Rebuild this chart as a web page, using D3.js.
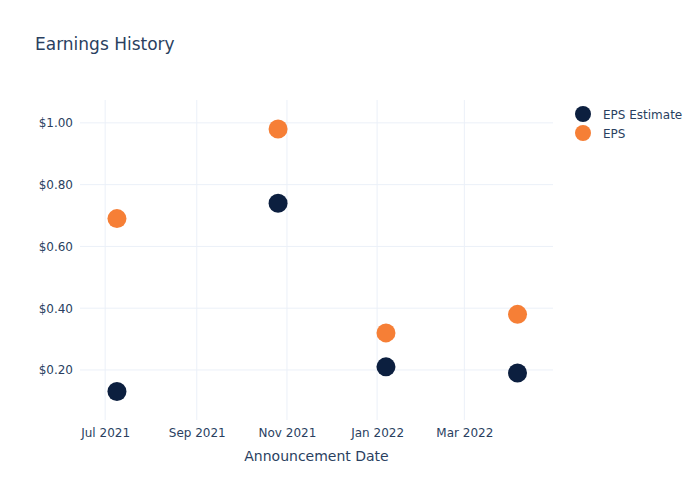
<!DOCTYPE html>
<html><head><meta charset="utf-8">
<script src="https://cdn.jsdelivr.net/npm/d3@7"></script>
<style>body{margin:0;background:#fff}svg{font-family:"DejaVu Sans",sans-serif}</style>
</head><body><svg id="c" width="700" height="500"></svg>
<script>
const dates = ["2021-07-09","2021-10-26","2022-01-07","2022-04-06"];
const epsEstimate = [0.13, 0.74, 0.21, 0.19];
const eps = [0.69, 0.98, 0.32, 0.38];
const yTicks = [0.2, 0.4, 0.6, 0.8, 1.0];
const xTicks = ["2021-07-01","2021-09-01","2021-11-01","2022-01-01","2022-03-01"];
const seriesNames = ["EPS Estimate", "EPS"];
const colors = ["#0c1f3f", "#f67f36"];

const parse = d3.timeParse("%Y-%m-%d");
const svg = d3.select("#c");
const m = {l:80, r:147, t:100, b:80};
const W = 700, H = 500;
const x = d3.scaleTime().domain([parse("2021-06-14"), parse("2022-04-30")]).range([m.l, W - m.r]);
const y = d3.scaleLinear().domain([0.038, 1.074]).range([H - m.b, m.t]);
const txt = "#2a3f5f", grid = "#ebf0f8";

// grid
svg.append("g").selectAll("line").data(yTicks).join("line")
  .attr("x1", m.l).attr("x2", W - m.r).attr("y1", d => y(d)).attr("y2", d => y(d))
  .attr("stroke", grid).attr("stroke-width", 1);
svg.append("g").selectAll("line").data(xTicks).join("line")
  .attr("y1", m.t).attr("y2", H - m.b).attr("x1", d => x(parse(d))).attr("x2", d => x(parse(d)))
  .attr("stroke", grid).attr("stroke-width", 1);

// axes
const yAxis = d3.axisLeft(y).tickValues(yTicks).tickFormat(d => "$" + d.toFixed(2)).tickSize(0).tickPadding(7);
const gy = svg.append("g").attr("transform", `translate(${m.l},0)`).call(yAxis);
gy.select(".domain").remove();
gy.selectAll("text").attr("fill", txt).attr("font-size", 12).attr("font-family", '"DejaVu Sans",sans-serif');

const xAxis = d3.axisBottom(x).tickValues(xTicks.map(parse)).tickFormat(d3.timeFormat("%b %Y")).tickSize(0).tickPadding(8);
const gx = svg.append("g").attr("transform", `translate(0,${H - m.b})`).call(xAxis);
gx.select(".domain").remove();
gx.selectAll("text").attr("fill", txt).attr("font-size", 12).attr("font-family", '"DejaVu Sans",sans-serif');

// points
[epsEstimate, eps].forEach((vals, i) => {
  svg.append("g").selectAll("circle").data(vals).join("circle")
    .attr("cx", (d, j) => x(parse(dates[j]))).attr("cy", d => y(d))
    .attr("r", 9.5).attr("fill", colors[i]);
});

// title
svg.append("text").attr("x", 35).attr("y", 50).attr("fill", txt).attr("font-size", 17).text("Earnings History");
svg.append("text").attr("x", (m.l + W - m.r) / 2).attr("y", 461).attr("text-anchor", "middle")
  .attr("fill", txt).attr("font-size", 14).text("Announcement Date");

// legend
const lg = svg.append("g").attr("transform", "translate(583,114)");
seriesNames.forEach((n, i) => {
  const g = lg.append("g").attr("transform", `translate(0,${i * 19})`);
  g.append("circle").attr("r", 8).attr("fill", colors[i]);
  g.append("text").attr("x", 20).attr("y", 4.5).attr("fill", txt).attr("font-size", 12).text(n);
});
</script></body></html>
